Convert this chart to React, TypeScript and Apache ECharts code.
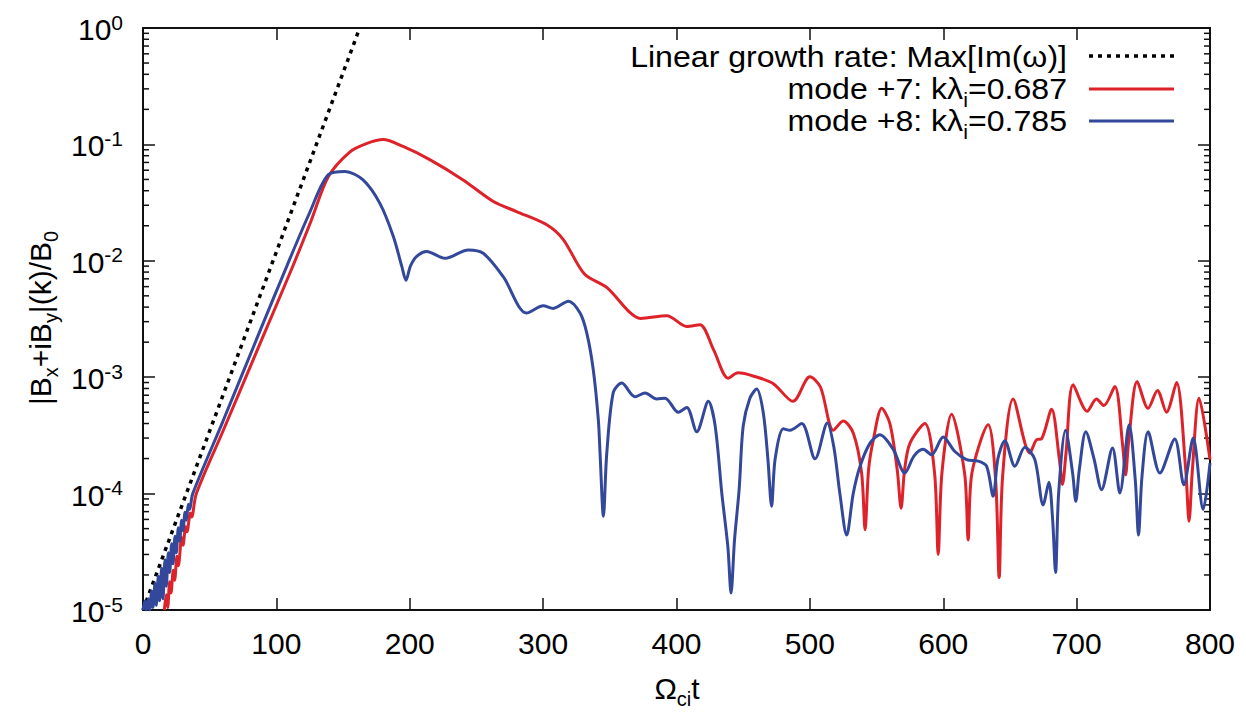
import React, { useEffect, useRef } from "react";
import * as echarts from "echarts";

// Time axis (Ω_ci t) and amplitude |Bx+iBy|(k)/B0 on a log scale
const xTicks = [0, 100, 200, 300, 400, 500, 600, 700, 800];
const yMin = 1e-5;
const yMax = 1;
const minorMantissas = [2, 3, 4, 5, 6, 7, 8, 9];
const minorDecades = [-5, -4, -3, -2, -1];

// Linear growth rate reference line
const growth: [number, number][] = [
  [0, 1e-5],
  [162.5, 1],
];

// mode +7: kλi = 0.687
const mode7: [number, number][] = [
  [16, 1.0e-5], [17.5, 1.35e-5], [18.5, 1.05e-5], [20, 1.75e-5], [21, 1.4e-5],
  [22.7, 2.2e-5], [23.7, 1.8e-5], [25.5, 2.9e-5], [26.5, 2.4e-5], [29, 4.2e-5],
  [30, 3.6e-5], [32, 5.2e-5], [33, 4.7e-5], [35.5, 6.8e-5], [36.5, 6.3e-5],
  [40, 1.0e-4], [60, 3.45e-4], [89, 2.1e-3], [112, 8.8e-3], [126, 2.2e-2], [139, 5.3e-2],
  [155, 8.6e-2], [168, 0.102], [180, 0.11], [195, 0.096], [215, 0.074],
  [240, 0.0495], [262.7, 0.0323], [280, 0.0265], [302.7, 0.0204], [315, 0.0153],
  [331, 7.7e-3], [347.7, 5.9e-3], [365, 3.6e-3], [373, 3.2e-3], [392.7, 3.37e-3],
  [407.7, 2.73e-3], [417.5, 2.82e-3], [428, 1.7e-3], [438.8, 9.8e-4], [446, 1.09e-3],
  [458, 1.02e-3], [472.6, 8.8e-4], [487.3, 6.2e-4], [500, 1.01e-3], [508, 8.2e-4],
  [517.6, 3.5e-4], [525, 4.2e-4], [532.6, 3.3e-4], [538.8, 1.5e-4], [541.4, 4.9e-5],
  [544, 1.6e-4], [547.6, 2.9e-4], [553.9, 5.4e-4], [560, 4.0e-4], [565.5, 1.6e-4],
  [568.4, 7.5e-5], [571, 1.6e-4], [575, 2.7e-4], [586.2, 4.0e-4], [593.5, 1.5e-4],
  [596.2, 3.0e-5], [599, 1.5e-4], [606.2, 4.8e-4], [616, 1.5e-4], [618.7, 4.0e-5],
  [621.5, 1.5e-4], [633.7, 3.9e-4], [639.3, 1.3e-4], [641.9, 1.9e-5], [644.5, 1.4e-4],
  [652.4, 6.5e-4], [664.9, 2.23e-4], [670, 2.9e-4], [673.7, 2.95e-4], [681.2, 5.3e-4],
  [687, 2.0e-4], [689.4, 1.2e-4], [692, 2.2e-4], [697.4, 8.6e-4], [707.9, 5.1e-4],
  [714.9, 6.5e-4], [720.4, 5.7e-4], [728.6, 8.3e-4], [734.5, 2.6e-4], [736.7, 1.45e-4],
  [739, 2.8e-4], [745.4, 9.2e-4], [753.6, 5.4e-4], [760.6, 7.7e-4], [767.4, 5.0e-4],
  [774.9, 9.0e-4], [781.8, 1.6e-4], [784.3, 5.8e-5], [786.8, 1.6e-4], [791.8, 6.6e-4],
  [800, 1.96e-4],
];

// mode +8: kλi = 0.785
const mode8: [number, number][] = [
  [0, 1.0e-5], [1.5, 1.2e-5], [2.5, 1.0e-5], [4, 1.25e-5], [5, 1.0e-5],
  [6.5, 1.45e-5], [7.5, 1.05e-5], [9, 1.7e-5], [10, 1.1e-5], [11.5, 1.95e-5],
  [12.5, 1.2e-5], [14, 2.3e-5], [15, 1.25e-5], [16.5, 2.7e-5], [17.5, 1.6e-5],
  [19, 3.1e-5], [20, 2.1e-5], [21.5, 3.7e-5], [22.5, 2.5e-5], [24, 4.3e-5],
  [25, 3.1e-5], [26.5, 5.1e-5], [27.5, 3.9e-5], [29, 5.9e-5], [30, 4.8e-5],
  [31.5, 6.9e-5], [32.5, 5.9e-5], [34, 8.1e-5], [35, 7.3e-5], [37.3, 1.0e-4],
  [60, 4.2e-4], [85, 2.1e-3], [108, 9.1e-3], [125, 2.6e-2], [139, 5.5e-2],
  [151.5, 5.85e-2], [165, 4.95e-2], [177.7, 3.1e-2], [187.7, 1.62e-2], [194, 9.0e-3],
  [197.2, 6.8e-3], [200.5, 9.0e-3], [205.2, 1.09e-2], [212.7, 1.2e-2], [226.5, 1.05e-2],
  [243.9, 1.24e-2], [255.1, 1.16e-2], [270.1, 7.3e-3], [287.6, 3.56e-3], [300.1, 4.1e-3],
  [307.6, 3.9e-3], [318.9, 4.5e-3], [327.7, 3.56e-3], [332.7, 2.4e-3], [337.6, 1.16e-3],
  [341.4, 4.3e-4], [342.7, 2.2e-4], [345.2, 6.4e-5], [347.7, 2.2e-4], [352.6, 7.4e-4],
  [358.9, 8.9e-4], [368.9, 6.8e-4], [376.4, 7.3e-4], [385.2, 6.5e-4], [391.4, 6.6e-4],
  [401.4, 5.0e-4], [407.7, 5.5e-4], [415.2, 3.4e-4], [423.9, 6.2e-4], [429, 3.8e-4],
  [434, 1.0e-4], [438.5, 3.5e-5], [440.9, 1.4e-5], [443.5, 4.0e-5], [447, 1.1e-4],
  [450, 3.8e-4], [455, 6.6e-4], [460.1, 7.9e-4], [465, 5.0e-4], [468.5, 2.0e-4],
  [471.3, 7.8e-5], [474, 2.0e-4], [480.1, 3.6e-4], [485.1, 3.5e-4], [493.9, 4.0e-4],
  [503.9, 1.99e-4], [513.1, 4.05e-4], [518, 2.5e-4], [522.5, 1.0e-4], [527.6, 4.4e-5],
  [532.5, 1.0e-4], [537.5, 1.7e-4], [545, 2.7e-4], [552.5, 3.2e-4], [562.5, 2.4e-4],
  [571.2, 1.5e-4], [578, 2.1e-4], [585, 2.4e-4], [591.2, 2.16e-4], [600, 3.06e-4],
  [608.7, 2.3e-4], [617.5, 1.96e-4], [626.2, 1.9e-4], [632.5, 1.72e-4], [637.4, 9.5e-5],
  [641, 2.0e-4], [646.2, 2.85e-4], [653.7, 1.72e-4], [661.2, 2.5e-4], [668.7, 1.96e-4],
  [674.9, 8.0e-5], [679.2, 1.25e-4], [682, 6.0e-5], [684.2, 2.1e-5], [686.5, 1.0e-4],
  [691.7, 3.5e-4], [697, 1.5e-4], [699.4, 8.6e-5], [702, 1.6e-4], [706.9, 3.4e-4],
  [713, 2.0e-4], [718.7, 1.08e-4], [726.9, 2.47e-4], [732.4, 1.01e-4], [739.4, 3.9e-4],
  [744, 1.3e-4], [746.4, 4.4e-5], [749, 1.4e-4], [753.6, 3.4e-4], [762.4, 1.5e-4],
  [773.6, 2.95e-4], [780.4, 1.19e-4], [787.4, 3.0e-4], [794.9, 7.3e-5], [800, 1.83e-4],
];

const legendLabels = [
  "{n|Linear growth rate: Max[Im(ω)]}",
  "{n|mode +7: kλ}{s|i}{n|=0.687}",
  "{n|mode +8: kλ}{s|i}{n|=0.785}",
];

const FONT = '"Liberation Sans", Arial, Helvetica, sans-serif';
const RED = "#dd2229";
const BLUE = "#33489a";
const AXIS = "#111";

const subRich = {
  n: { fontSize: 30, fontFamily: FONT, color: "#000", fill: "#000", verticalAlign: "top" },
  s: { fontSize: 20, fontFamily: FONT, color: "#000", fill: "#000", verticalAlign: "bottom", padding: [16, 0, 0, 0] },
};

export default function App() {
  const ref = useRef<HTMLDivElement>(null);

  useEffect(() => {
    if (!ref.current) return;
    const chart = echarts.init(ref.current, null, { renderer: "svg" });

    const minorTicks: number[] = [];
    minorDecades.forEach((d) => minorMantissas.forEach((m) => minorTicks.push(m * Math.pow(10, d))));

    const keyText = (label: string, y: number) => ({
      type: "text",
      x: 1067,
      y,
      scaleX: 1.07,
      style: { text: label, align: "right", verticalAlign: "middle", rich: subRich, fill: "#000" },
    });

    const option: any = {
      animation: false,
      backgroundColor: "#fff",
      grid: { left: 143, right: 36, top: 28, bottom: 103 },
      xAxis: [
        {
          type: "value",
          min: 0,
          max: 800,
          interval: 100,
          position: "bottom",
          axisLine: { show: true, onZero: false, lineStyle: { color: AXIS, width: 2 } },
          axisTick: { show: true, inside: true, length: 12, lineStyle: { color: AXIS, width: 1.5 } },
          axisLabel: {
            margin: 18,
            fontSize: 30,
            fontFamily: FONT,
            color: "#000",
            formatter: (v: number) => (xTicks.includes(v) ? String(v) : ""),
          },
          splitLine: { show: false },
        },
        {
          type: "value",
          min: 0,
          max: 800,
          interval: 100,
          position: "top",
          axisLine: { show: true, onZero: false, lineStyle: { color: AXIS, width: 2 } },
          axisTick: { show: true, inside: true, length: 12, lineStyle: { color: AXIS, width: 1.5 } },
          axisLabel: { show: false },
          splitLine: { show: false },
        },
      ],
      yAxis: [
        {
          type: "log",
          logBase: 10,
          min: yMin,
          max: yMax,
          position: "left",
          axisLine: { show: true, onZero: false, lineStyle: { color: AXIS, width: 2 } },
          axisTick: { show: true, inside: true, length: 12, lineStyle: { color: AXIS, width: 1.5 } },
          axisLabel: {
            margin: 20,
            formatter: (v: number) => `{b|10}{p|${Math.round(Math.log10(v))}}`,
            rich: {
              b: { fontSize: 30, fontFamily: FONT, color: "#000", verticalAlign: "bottom", padding: [3, 0, 0, 0] },
              p: { fontSize: 21, fontFamily: FONT, color: "#000", verticalAlign: "top" },
            },
          },
          splitLine: { show: false },
        },
        {
          type: "log",
          logBase: 10,
          min: yMin,
          max: yMax,
          position: "right",
          axisLine: { show: true, onZero: false, lineStyle: { color: AXIS, width: 2 } },
          axisTick: { show: true, inside: true, length: 12, lineStyle: { color: AXIS, width: 1.5 } },
          axisLabel: { show: false },
          splitLine: { show: false },
        },
      ],
      series: [
        {
          // minor log ticks (2..9 per decade) on both vertical borders
          type: "custom",
          xAxisIndex: 0,
          yAxisIndex: 0,
          silent: true,
          clip: false,
          data: minorTicks.map((v) => [0, v]),
          encode: { x: 0, y: 1 },
          renderItem: (params: any, api: any) => {
            const cs = params.coordSys;
            const y = api.coord([0, api.value(1)])[1];
            const x0 = cs.x;
            const x1 = cs.x + cs.width;
            const st = { stroke: AXIS, lineWidth: 1.5 };
            return {
              type: "group",
              children: [
                { type: "line", shape: { x1: x0, y1: y, x2: x0 + 6, y2: y }, style: st },
                { type: "line", shape: { x1: x1, y1: y, x2: x1 - 6, y2: y }, style: st },
              ],
            };
          },
        },
        {
          name: "Linear growth rate: Max[Im(ω)]",
          type: "line",
          data: growth,
          showSymbol: false,
          lineStyle: { color: "#000", width: 3.5, type: [4, 5], cap: "butt" },
        },
        {
          name: "mode +7: kλi=0.687",
          type: "line",
          data: mode7,
          showSymbol: false,
          smooth: 0.3,
          lineStyle: { color: RED, width: 3 },
        },
        {
          name: "mode +8: kλi=0.785",
          type: "line",
          data: mode8,
          showSymbol: false,
          smooth: 0.3,
          lineStyle: { color: BLUE, width: 3 },
        },
      ],
      graphic: [
        // key
        keyText(legendLabels[0], 57),
        keyText(legendLabels[1], 92),
        keyText(legendLabels[2], 124),
        {
          type: "line",
          shape: { x1: 1089, y1: 56, x2: 1174, y2: 56 },
          style: { stroke: "#000", lineWidth: 3.5, lineDash: [4, 5] },
        },
        { type: "line", shape: { x1: 1089, y1: 89, x2: 1174, y2: 89 }, style: { stroke: RED, lineWidth: 3 } },
        { type: "line", shape: { x1: 1089, y1: 121, x2: 1174, y2: 121 }, style: { stroke: BLUE, lineWidth: 3 } },
        // axis titles
        {
          type: "text",
          x: 677,
          y: 691,
          style: { text: "{n|Ω}{s|ci}{n|t}", align: "center", verticalAlign: "middle", rich: subRich, fill: "#000" },
        },
        {
          type: "text",
          x: 43,
          y: 318,
          rotation: Math.PI / 2,
          style: {
            text: "{n||B}{s|x}{n|+iB}{s|y}{n||(k)/B}{s|0}",
            align: "center",
            verticalAlign: "middle",
            rich: subRich,
            fill: "#000",
          },
        },
      ],
    };

    chart.setOption(option);
    return () => chart.dispose();
  }, []);

  return (
    <div
      ref={ref}
      style={{ position: "fixed", left: 0, top: 0, width: 1246, height: 713, background: "#fff" }}
    />
  );
}
